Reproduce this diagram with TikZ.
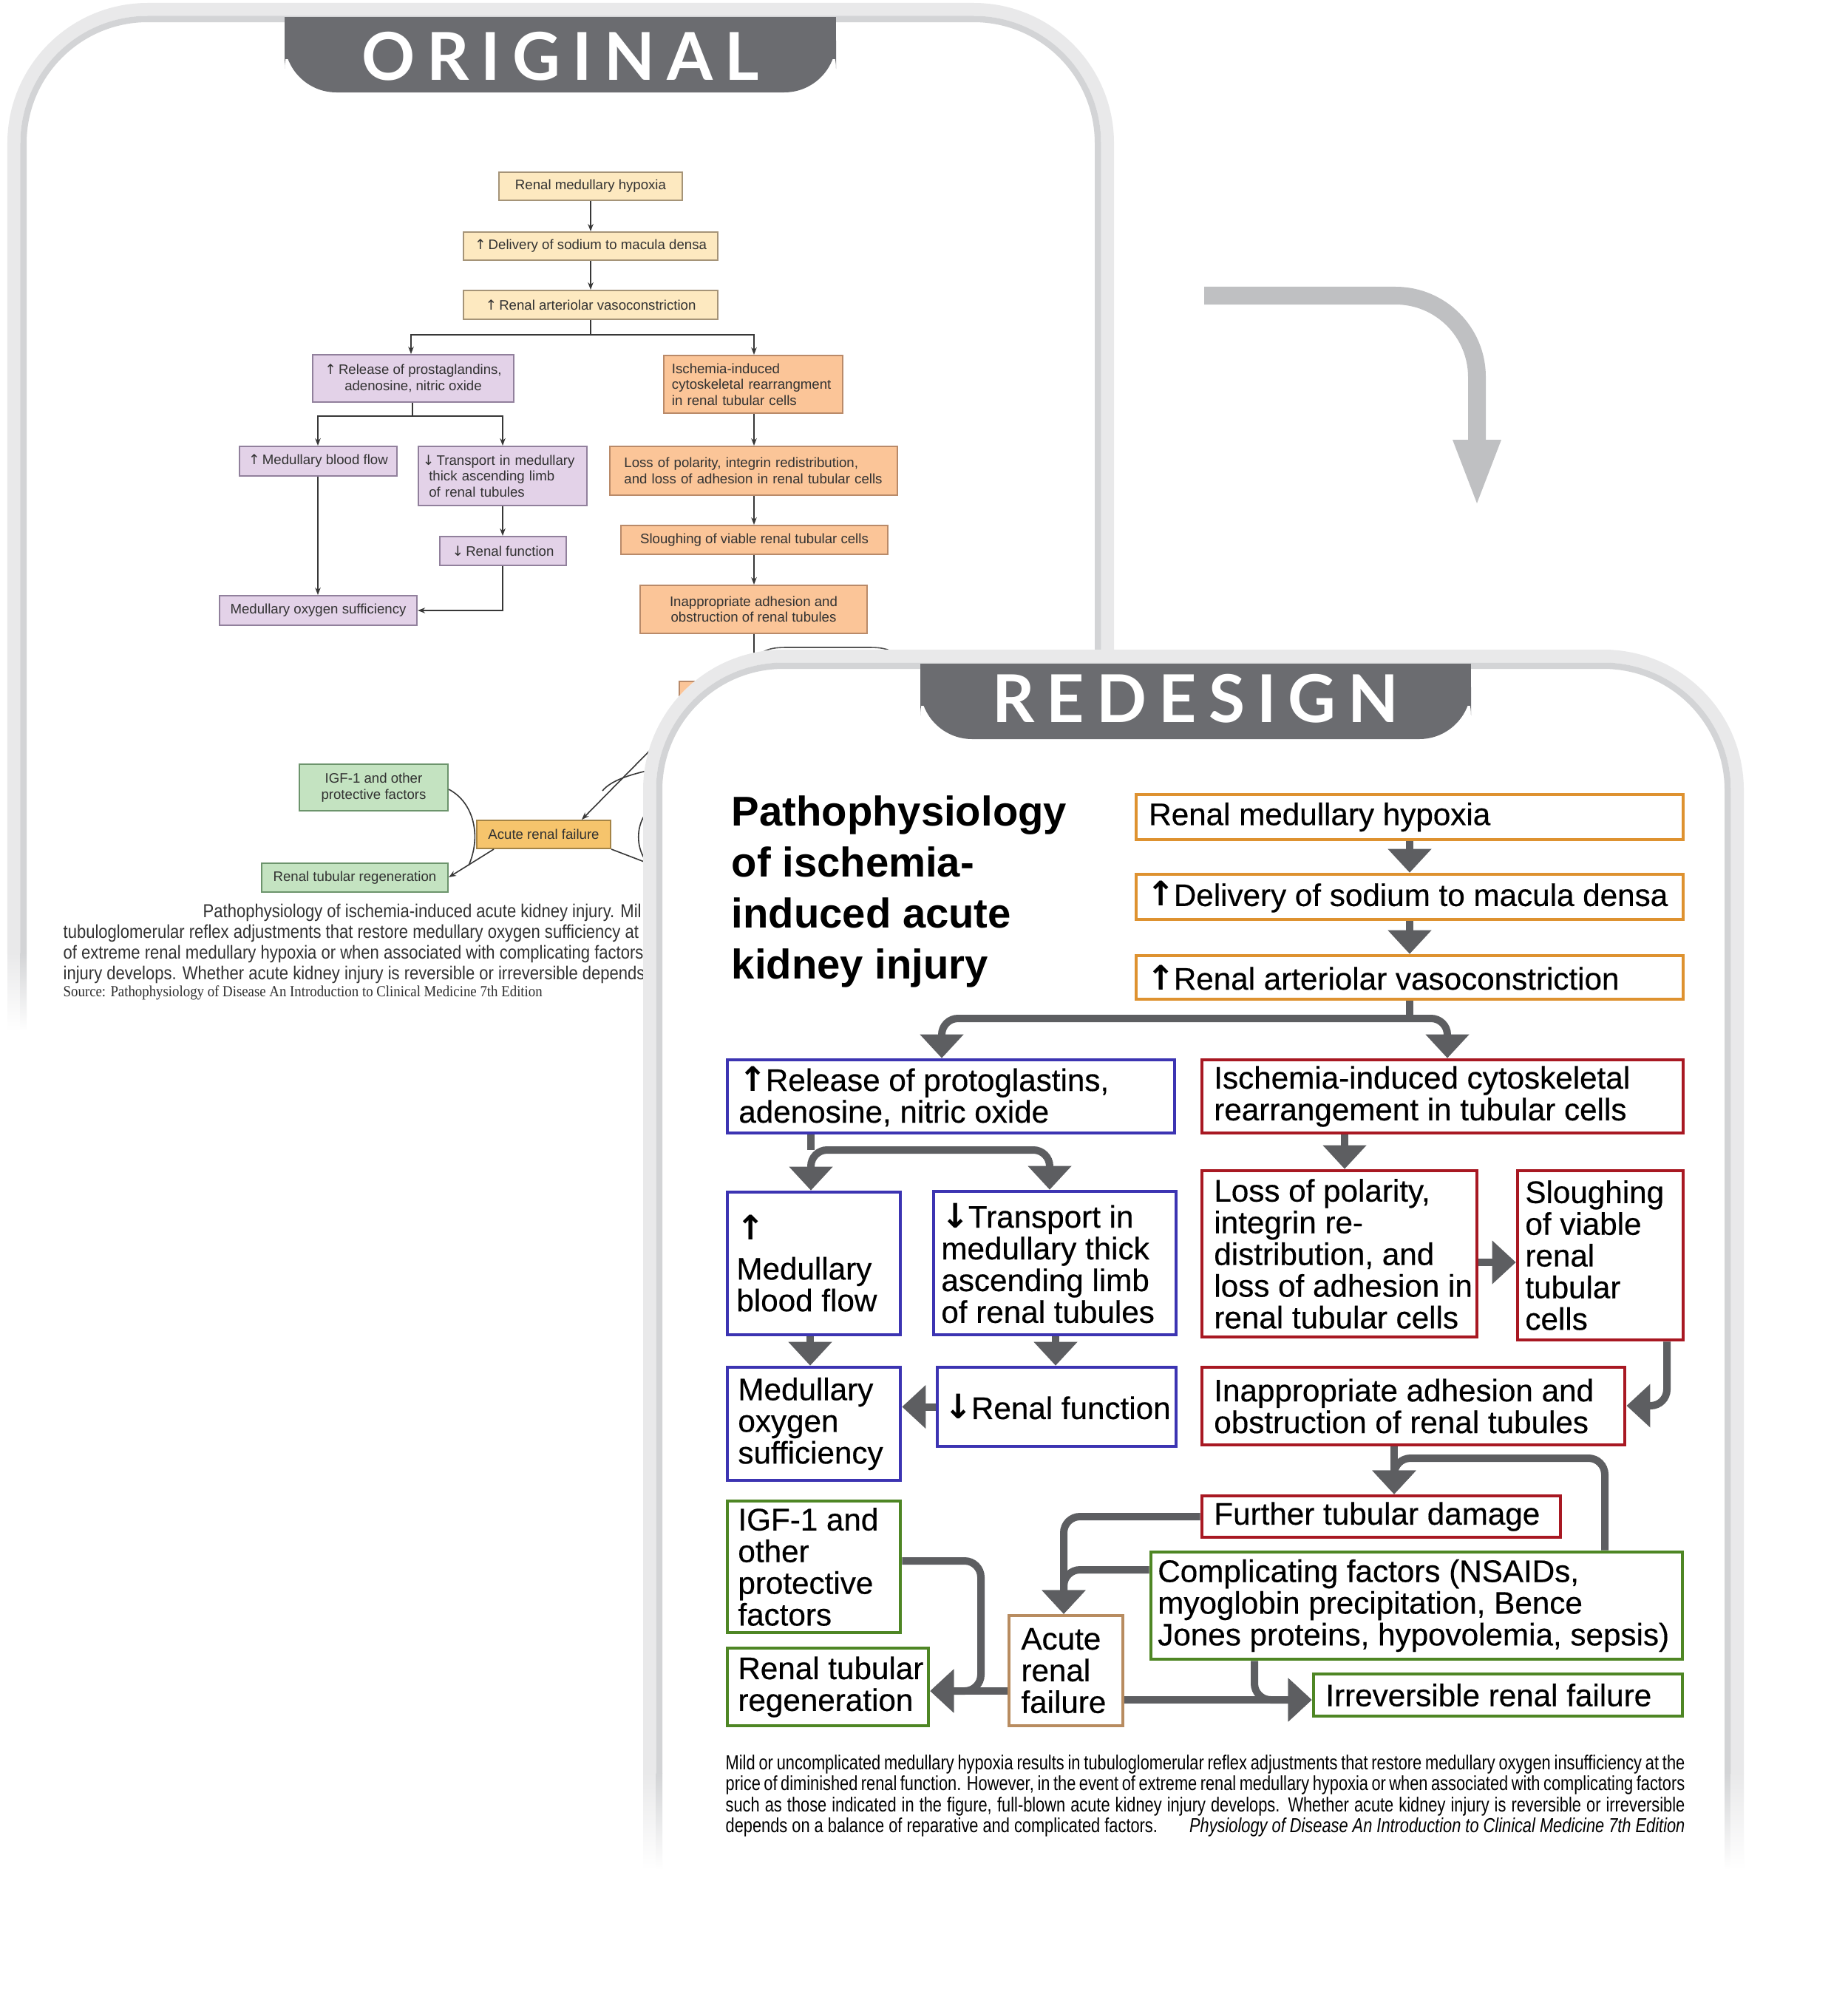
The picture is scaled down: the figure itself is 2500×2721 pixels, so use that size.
\documentclass[tikz,border=0pt]{standalone}
\usepackage{fontspec}
\setmainfont{Liberation Sans}
\newfontfamily\boxfont{Liberation Sans}[FakeBold=0.4]
\newfontfamily\capfont{Liberation Sans}[FakeStretch=0.795]
\newfontfamily\origfont{Liberation Sans}[FakeStretch=0.87]
\newfontfamily\srcfont{Liberation Serif}[FakeStretch=0.9]
\newfontfamily\tabfont{Lato}
\newfontfamily\arrfont{DejaVu Sans}
\usetikzlibrary{arrows.meta}

\definecolor{bandL}{RGB}{233,233,234}
\definecolor{bandD}{RGB}{211,212,214}
\definecolor{tabgray}{RGB}{107,108,112}
\definecolor{bigarrow}{RGB}{191,192,194}
\definecolor{conn}{RGB}{93,94,97}
\definecolor{cOrange}{RGB}{222,146,48}
\definecolor{cBlue}{RGB}{60,52,178}
\definecolor{cRed}{RGB}{168,24,34}
\definecolor{cGreen}{RGB}{78,134,36}
\definecolor{cTan}{RGB}{184,140,96}
\definecolor{oYel}{RGB}{253,233,192}
\definecolor{oYelD}{RGB}{165,148,120}
\definecolor{oLav}{RGB}{227,210,232}
\definecolor{oLavD}{RGB}{145,128,156}
\definecolor{oSal}{RGB}{251,197,152}
\definecolor{oSalD}{RGB}{185,138,105}
\definecolor{oGrn}{RGB}{196,227,193}
\definecolor{oGrnD}{RGB}{108,148,108}
\definecolor{oGold}{RGB}{246,196,108}
\definecolor{oGoldD}{RGB}{165,132,70}
\definecolor{oLine}{RGB}{55,55,55}
\definecolor{oText}{RGB}{50,50,50}

\newcommand\upa{{\arrfont\bfseries\fontsize{13}{12}\selectfont\char"2191}\kern-0.5pt}
\newcommand\dna{{\arrfont\bfseries\fontsize{13}{12}\selectfont\char"2193}\kern-0.5pt}
\newcommand\oup{{\arrfont\char"2191}\,}
\newcommand\odn{{\arrfont\char"2193}\,}
\newcommand\tsp{\kern 4.6pt}

\tikzset{
  rb/.style={draw, line width=0.045cm, fill=white, inner sep=0pt},
  rt/.style={align=left, inner sep=0pt, font=\boxfont\fontsize{12}{12.2}\selectfont},
  cn/.style={draw=conn, line width=0.1cm, rounded corners=0.22cm},
  cnh/.style={cn, -{Triangle[length=0.32cm,width=0.57cm]}},
  cnhh/.style={cn, {Triangle[length=0.32cm,width=0.57cm]}-{Triangle[length=0.32cm,width=0.57cm]}},
  ob/.style={line width=0.02cm, inner sep=0pt, align=center, text=oText, font=\fontsize{5.3}{6.1}\selectfont},
  ol/.style={draw=oLine, line width=0.016cm},
  oa/.style={ol, -{Stealth[length=0.1cm,width=0.075cm]}},
  oaa/.style={ol, {Stealth[length=0.1cm,width=0.075cm]}-{Stealth[length=0.1cm,width=0.075cm]}},
  ocap/.style={inner sep=0pt, text=oText, font=\origfont\fontsize{7.2}{8}\selectfont},
  osrc/.style={inner sep=0pt, text=oText!90!black, font=\srcfont\fontsize{5.95}{6}\selectfont},
  tabtxt/.style={inner sep=0pt, text=white, font=\tabfont\bfseries\fontsize{25.4}{25.4}\selectfont, anchor=base},
}

% name, colour, cx, cy, w(cm), h(cm), pad(cm), text
\newcommand\rbox[8]{%
  \node[rb, draw=#2, minimum width=#5cm, minimum height=#6cm] (#1) at (#3,#4) {};
  \node[rt, anchor=west] (#1t) at ([xshift=#7cm]#1.west) {#8};}

\begin{document}
\begin{tikzpicture}[x=0.01cm, y=-0.01cm]
\useasboundingbox (0,0) rectangle (2500,2721);
\fill[white] (0,0) rectangle (2500,2721);

% ---------------- ORIGINAL panel ----------------
\draw[bandL, line width=0.175cm, rounded corners=1.81cm] (18.75,1290) -- (18.75,12.75) -- (1498.25,12.75) -- (1498.25,1290);
\draw[bandD, line width=0.085cm, rounded corners=1.68cm] (31.75,1290) -- (31.75,25.75) -- (1485.25,25.75) -- (1485.25,1290);
\shade[top color=bandL, bottom color=white] (10,1289) rectangle (27.5,1395);
\shade[top color=bandD, bottom color=white] (27.5,1289) rectangle (36,1395);
\fill[tabgray] (385,23) rectangle (1131,80);
\fill[tabgray, rounded corners=0.7cm] (385,23) rectangle (1131,125);
\node[tabtxt] (origlabel) at (758,108.5) {O\tsp R\tsp I\tsp G\tsp I\tsp N\tsp A\tsp L};

% original flowchart
\node[ob, fill=oYel, draw=oYelD, minimum width=2.48cm, minimum height=0.38cm] (o1) at (799,252) {Renal medullary hypoxia};
\node[ob, fill=oYel, draw=oYelD, minimum width=3.44cm, minimum height=0.38cm] (o2) at (799,333) {\oup Delivery of sodium to macula densa};
\node[ob, fill=oYel, draw=oYelD, minimum width=3.44cm, minimum height=0.39cm] (o3) at (799,412.5) {\oup Renal arteriolar vasoconstriction};
\node[ob, fill=oLav, draw=oLavD, minimum width=2.72cm, minimum height=0.64cm] (o4) at (559,512) {\oup Release of prostaglandins,\\adenosine, nitric oxide};
\node[ob, fill=oSal, draw=oSalD, minimum width=2.42cm, minimum height=0.78cm, text width=2.2cm, align=left] (o5) at (1019,520) {Ischemia-induced\\cytoskeletal rearrangment\\in renal tubular cells};
\node[ob, fill=oLav, draw=oLavD, minimum width=2.13cm, minimum height=0.40cm] (o6) at (430.5,624) {\oup Medullary blood flow};
\node[ob, fill=oLav, draw=oLavD, minimum width=2.28cm, minimum height=0.80cm, text width=2.16cm, align=left] (o7) at (680,644) {\odn Transport in medullary\\\hspace*{0.85ex}thick ascending limb\\\hspace*{0.85ex}of renal tubules};
\node[ob, fill=oSal, draw=oSalD, minimum width=3.89cm, minimum height=0.66cm, text width=3.5cm, align=left] (o8) at (1019.5,637) {Loss of polarity, integrin redistribution,\\and loss of adhesion in renal tubular cells};
\node[ob, fill=oLav, draw=oLavD, minimum width=1.71cm, minimum height=0.39cm] (o9) at (680.5,745.5) {\odn Renal function};
\node[ob, fill=oLav, draw=oLavD, minimum width=2.67cm, minimum height=0.40cm] (o10) at (430.5,826) {Medullary oxygen sufficiency};
\node[ob, fill=oSal, draw=oSalD, minimum width=3.61cm, minimum height=0.39cm] (o11) at (1020.5,730.5) {Sloughing of viable renal tubular cells};
\node[ob, fill=oSal, draw=oSalD, minimum width=3.07cm, minimum height=0.65cm] (o12) at (1019.5,824.5) {Inappropriate adhesion and\\obstruction of renal tubules};
\node[ob, fill=oSal, draw=oSalD, minimum width=2.01cm, minimum height=0.53cm] (o13) at (1019.5,948.5) {};
\node[ob, fill=oGrn, draw=oGrnD, minimum width=2.01cm, minimum height=0.63cm] (o14) at (505.5,1065.5) {IGF-1 and other\\protective factors};
\node[ob, fill=oGold, draw=oGoldD, minimum width=1.81cm, minimum height=0.38cm] (o15) at (735.5,1129) {Acute renal failure};
\node[ob, fill=oGrn, draw=oGrnD, minimum width=2.52cm, minimum height=0.39cm] (o16) at (480,1187.5) {Renal tubular regeneration};

\draw[oa] (o1.south) -- (o2.north);
\draw[oa] (o2.south) -- (o3.north);
\draw[ol] (o3.south) -- (799,453);
\draw[oaa] (556,0 |- o4.north) |- (1020,453) -- (1020,0 |- o5.north);
\draw[ol] (558,0 |- o4.south) -- (558,563);
\draw[oaa] (430,0 |- o6.north) |- (680,563) -- (680,0 |- o7.north);
\draw[oa] (1020,0 |- o5.south) -- (1020,0 |- o8.north);
\draw[oa] (680,0 |- o7.south) -- (680,0 |- o9.north);
\draw[oa] (430,0 |- o6.south) -- (430,0 |- o10.north);
\draw[oa] (680,0 |- o9.south) |- (o10.east);
\draw[oa] (1020,0 |- o8.south) -- (1020,0 |- o11.north);
\draw[oa] (1020,0 |- o11.south) -- (1020,0 |- o12.north);
\draw[ol] (1020,0 |- o12.south) -- (1020,0 |- o13.north);
\draw[ol, draw=oLine!85] (1022,892) .. controls (1032,878) and (1045,876) .. (1065,876) -- (1175,876) .. controls (1195,876) and (1208,878) .. (1216,892);
\draw[oa] (o13.south west) -- (787,0 |- o15.north);
\draw[ol] (875,1043) .. controls (845,1050) and (825,1058) .. (815,1070);
\draw[ol] (872,1103) .. controls (861,1120) and (861,1145) .. (872,1162);
\draw[ol] (o15.south east) -- (874,1167);
\draw[ol] (o14.east |- 0,1068) .. controls (640,1085) and (652,1130) .. (634,1171);
\draw[oa] (668,0 |- o15.south) -- (o16.east |- 0,1187);

\node[ocap, anchor=base west] (oc1) at (274,1241) {Pathophysiology of ischemia-induced acute kidney injury. Mil};
\node[ocap, anchor=base west] (oc2) at (85,1269) {tubuloglomerular reflex adjustments that restore medullary oxygen sufficiency at};
\node[ocap, anchor=base west] (oc3) at (85,1297) {of extreme renal medullary hypoxia or when associated with complicating factors};
\node[ocap, anchor=base west] (oc4) at (85,1325) {injury develops. Whether acute kidney injury is reversible or irreversible depends o};
\node[osrc, anchor=base west] (oc5) at (85,1348) {Source: Pathophysiology of Disease An Introduction to Clinical Medicine 7th Edition};

% big grey arrow
\draw[bigarrow, line width=0.24cm, rounded corners=1.1cm] (1629,400) -- (1998,400) -- (1998,600);
\fill[bigarrow] (1965,595) -- (2031,595) -- (1998,681) -- cycle;

% ---------------- REDESIGN panel ----------------
\fill[white, rounded corners=1.9cm] (870,2721) -- (870,879) -- (2359,879) -- (2359,2721) -- cycle;
\draw[bandL, line width=0.175cm, rounded corners=1.81cm] (878.75,2400) -- (878.75,887.75) -- (2350.25,887.75) -- (2350.25,2400);
\draw[bandD, line width=0.085cm, rounded corners=1.68cm] (891.75,2400) -- (891.75,900.75) -- (2337.25,900.75) -- (2337.25,2400);
\shade[top color=bandL, bottom color=white] (870,2399) rectangle (887.5,2530);
\shade[top color=bandD, bottom color=white] (887.5,2399) rectangle (896,2530);
\shade[top color=bandD, bottom color=white] (2333,2399) rectangle (2341.5,2530);
\shade[top color=bandL, bottom color=white] (2341.5,2399) rectangle (2359,2530);
\fill[tabgray] (1245,898) rectangle (1990,955);
\fill[tabgray, rounded corners=0.7cm] (1245,898) rectangle (1990,1000);
\node[tabtxt] (redlabel) at (1617.5,977.6) {R\tsp E\tsp D\tsp E\tsp S\tsp I\tsp G\tsp N};

\node[anchor=north west, inner sep=0pt, align=left, font=\bfseries\fontsize{16}{19.6}\selectfont] (title) at (989,1076) {Pathophysiology\\of ischemia-\\induced acute\\kidney injury};

\rbox{hyp}{cOrange}{1907}{1105.5}{7.40}{0.61}{0.19}{Renal medullary hypoxia}
\rbox{del}{cOrange}{1907}{1213.5}{7.40}{0.61}{0.16}{\upa Delivery of sodium to macula densa}
\rbox{vas}{cOrange}{1907}{1322.5}{7.40}{0.59}{0.16}{\upa Renal arteriolar vasoconstriction}
\rbox{rel}{cBlue}{1286.5}{1483.5}{6.05}{0.99}{0.17}{\upa Release of protoglastins,\\adenosine, nitric oxide}
\rbox{isc}{cRed}{1951.5}{1483.5}{6.51}{0.99}{0.18}{Ischemia-induced cytoskeletal\\rearrangement in tubular cells}
\rbox{mbf}{cBlue}{1101}{1709.5}{2.34}{1.93}{0.14}{\upa\\[3pt]Medullary\\blood flow}
\rbox{tra}{cBlue}{1427}{1709}{3.28}{1.94}{0.12}{\dna Transport in\\medullary thick\\ascending limb\\of renal tubules}
\rbox{lop}{cRed}{1812}{1696.5}{3.72}{2.25}{0.18}{Loss of polarity,\\integrin re-\\distribution, and\\loss of adhesion in\\renal tubular cells}
\rbox{slo}{cRed}{2165}{1698.5}{2.24}{2.29}{0.12}{Sloughing\\of viable\\renal\\tubular\\cells}
\rbox{mos}{cBlue}{1101}{1926.5}{2.34}{1.53}{0.16}{\fontsize{12}{13}\selectfont Medullary\\oxygen\\sufficiency}
\rbox{rfn}{cBlue}{1429.5}{1903.5}{3.23}{1.07}{0.11}{\dna Renal function}
\rbox{ina}{cRed}{1912}{1902.5}{5.72}{1.05}{0.18}{Inappropriate adhesion and\\obstruction of renal tubules}
\rbox{ftd}{cRed}{1868.5}{2052}{4.85}{0.56}{0.18}{Further tubular damage}
\rbox{igf}{cGreen}{1101}{2120}{2.34}{1.78}{0.16}{\fontsize{12}{11}\selectfont IGF-1 and\\other\\protective\\factors}
\rbox{cpf}{cGreen}{1916.5}{2172.5}{7.19}{1.45}{0.11}{Complicating factors (NSAIDs,\\myoglobin precipitation, Bence\\Jones proteins, hypovolemia, sepsis)}
\rbox{arf}{cTan}{1442}{2260.5}{1.54}{1.49}{0.18}{Acute\\renal\\failure}
\rbox{rtr}{cGreen}{1120}{2282.5}{2.72}{1.05}{0.16}{Renal tubular\\regeneration}
\rbox{irf}{cGreen}{2026.5}{2293.5}{4.99}{0.57}{0.18}{Irreversible renal failure}

% connectors
\draw[cnh] (hyp.south) -- (del.north);
\draw[cnh] (del.south) -- (vas.north);
\draw[cn] (vas.south) -- (1907,1378);
\draw[cnhh] (1274,0 |- rel.north) -- (1274,1378) -- (1958,1378) -- (1958,0 |- isc.north);
\draw[cn] (1097,0 |- rel.south) -- (1097,1556);
\draw[cnhh] (1097,0 |- mbf.north) -- (1097,1556) -- (1420,1556) -- (1420,0 |- tra.north);
\draw[cnh] (1819,0 |- isc.south) -- (1819,0 |- lop.north);
\draw[cnh] (lop.east |- 0,1708) -- (slo.west |- 0,1708);
\draw[cnh] (1096,0 |- mbf.south) -- (1096,0 |- mos.north);
\draw[cnh] (1428,0 |- tra.south) -- (1428,0 |- rfn.north);
\draw[cnh] (rfn.west) -- (mos.east |- rfn.west);
\draw[cnh] (2255,0 |- slo.south) |- (ina.east |- 0,1902);
\draw[cnh] (1886,0 |- ina.south) -- (1886,0 |- ftd.north);
\draw[cnh] (2171,0 |- cpf.north) |- (1886,1973) -- (1886,0 |- ftd.north);
\draw[cnh] (ftd.west) -| (1439,0 |- arf.north);
\draw[cnh] (cpf.west |- 0,2124) -| (1439,0 |- arf.north);
\draw[cnh] (arf.west |- 0,2288) -- (rtr.east |- 0,2288);
\draw[cnh] (igf.east |- 0,2112) -| (1327,2288) -- (rtr.east |- 0,2288);
\draw[cnh] (arf.east |- 0,2300) -- (irf.west |- 0,2300);
\draw[cnh] (1697,0 |- cpf.south) |- (irf.west |- 0,2300);

\node[anchor=north west, inner sep=0pt, align=left, font=\capfont\fontsize{7.8}{8.05}\selectfont] (cap) at (981,2374) {\frenchspacing%
\makebox[12.97cm][s]{Mild or uncomplicated medullary hypoxia results in tubuloglomerular reflex adjustments that restore medullary oxygen insufficiency at the}\\
\makebox[12.97cm][s]{price of diminished renal function. However, in the event of extreme renal medullary hypoxia or when associated with complicating factors}\\
\makebox[12.97cm][s]{such as those indicated in the figure, full-blown acute kidney injury develops. Whether acute kidney injury is reversible or irreversible}\\
\makebox[12.97cm][s]{depends on a balance of reparative and complicated factors.\hfill\textit{Physiology of Disease An Introduction to Clinical Medicine 7th Edition}}};
\end{tikzpicture}
\end{document}
